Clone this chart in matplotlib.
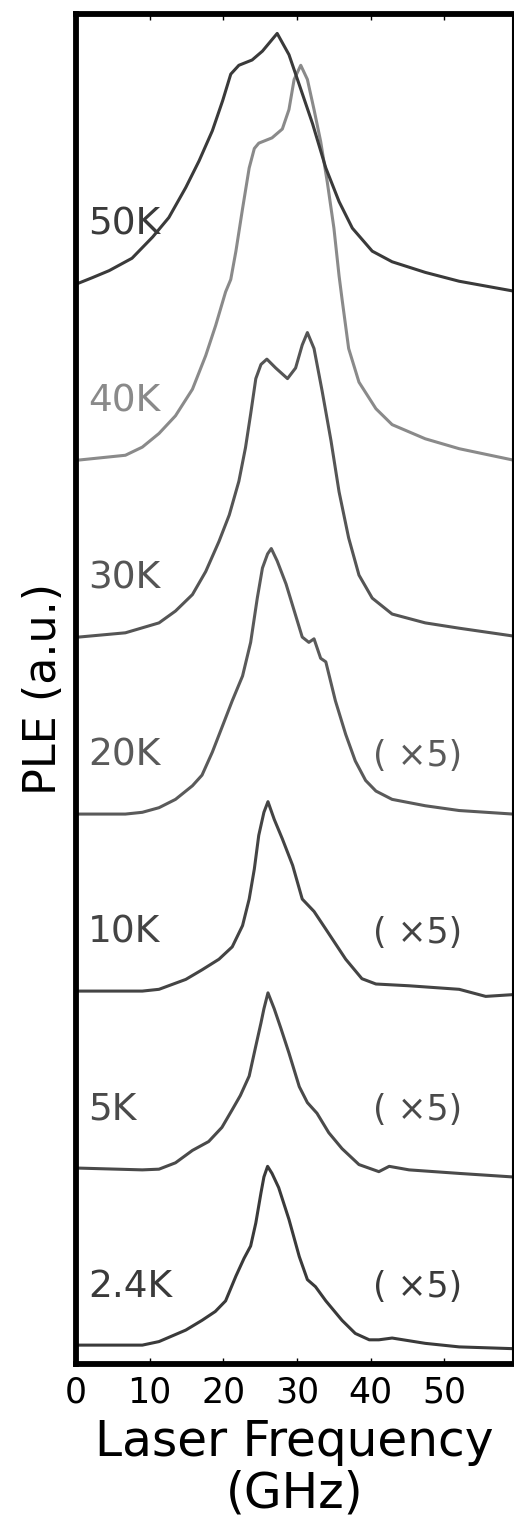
import matplotlib
matplotlib.use("Agg")
import matplotlib.pyplot as plt

plt.rcParams['font.family'] = ['DejaVu Sans']

# ---- data ----
temps = ["2.4K", "5K", "10K", "20K", "30K", "40K", "50K"]
offsets = [0, 1, 2, 3, 4, 5, 6]
scale_notes = ["( ×5)", "( ×5)", "( ×5)", "( ×5)", "", "", ""]

f_24 = [0.4, 9.0, 11.26, 14.9, 17.1, 18.9, 20.3, 21.7, 22.8, 23.7, 24.4, 25.1, 25.5, 26.0, 26.6, 27.5, 28.9, 30.3, 31.4, 32.5, 33.9, 36.1, 37.9, 39.8, 41.1, 42.9, 47.4, 52.0, 59.3]
i_24 = [0.0, 0.0, 0.02, 0.085, 0.14, 0.19, 0.25, 0.39, 0.49, 0.56, 0.69, 0.86, 0.95, 1.01, 0.97, 0.89, 0.71, 0.50, 0.37, 0.33, 0.25, 0.14, 0.066, 0.03, 0.03, 0.04, 0.01, -0.01, -0.02]

f_5 = [0.4, 9.0, 11.26, 13.5, 15.8, 18.0, 19.8, 21.2, 22.3, 23.5, 24.4, 25.1, 25.5, 26.05, 26.9, 27.8, 28.9, 30.3, 31.4, 32.7, 34.3, 36.1, 38.4, 41.1, 42.5, 45.2, 52.0, 59.3]
i_5 = [0.0, -0.01, -0.006, 0.03, 0.10, 0.15, 0.23, 0.33, 0.41, 0.52, 0.69, 0.82, 0.90, 0.99, 0.90, 0.79, 0.65, 0.46, 0.37, 0.31, 0.20, 0.11, 0.02, -0.02, 0.01, -0.01, -0.03, -0.05]

f_10 = [0.4, 9.0, 11.26, 14.9, 17.1, 19.4, 21.2, 22.6, 23.5, 24.2, 24.8, 25.5, 26.05, 26.9, 28.0, 29.4, 30.7, 32.3, 33.9, 36.6, 38.8, 40.7, 45.2, 52.0, 55.6, 59.3]
i_10 = [0.0, 0.0, 0.01, 0.066, 0.12, 0.18, 0.25, 0.37, 0.52, 0.69, 0.88, 1.01, 1.07, 0.97, 0.86, 0.71, 0.52, 0.45, 0.35, 0.18, 0.07, 0.04, 0.03, 0.01, -0.03, -0.02]

f_20 = [0.4, 6.7, 9.0, 11.26, 13.5, 15.8, 17.1, 18.5, 19.9, 21.2, 22.6, 23.7, 24.6, 25.3, 26.0, 26.5, 27.3, 28.5, 29.6, 30.7, 31.6, 32.3, 33.2, 33.9, 35.2, 36.6, 37.9, 39.3, 40.7, 42.9, 47.4, 52.0, 59.3]
i_20 = [0.0, 0.0, 0.01, 0.036, 0.083, 0.16, 0.22, 0.35, 0.50, 0.64, 0.78, 0.97, 1.22, 1.39, 1.47, 1.50, 1.43, 1.30, 1.15, 1.00, 0.97, 0.99, 0.88, 0.86, 0.64, 0.45, 0.30, 0.19, 0.13, 0.083, 0.047, 0.02, 0.0]

f_30 = [0.4, 6.7, 11.26, 13.5, 15.8, 17.6, 19.4, 20.8, 22.1, 23.0, 23.7, 24.4, 25.1, 25.9, 27.1, 28.7, 29.8, 30.7, 31.4, 32.3, 33.4, 34.6, 35.7, 37.0, 38.4, 40.2, 42.9, 47.4, 52.0, 59.3]
i_30 = [0.0, 0.024, 0.08, 0.147, 0.24, 0.37, 0.54, 0.69, 0.88, 1.07, 1.26, 1.46, 1.54, 1.57, 1.52, 1.46, 1.52, 1.65, 1.72, 1.63, 1.39, 1.11, 0.82, 0.56, 0.35, 0.22, 0.13, 0.08, 0.05, 0.006]

f_40 = [0.4, 6.7, 9.0, 11.26, 13.5, 15.8, 17.6, 18.95, 20.3, 21.0, 21.7, 22.6, 23.5, 24.2, 24.8, 26.6, 28.0, 28.9, 29.6, 30.5, 31.4, 32.3, 33.2, 34.1, 35.0, 35.7, 36.1, 37.0, 38.4, 40.7, 42.9, 47.4, 52.0, 59.3]
i_40 = [0.0, 0.027, 0.073, 0.15, 0.25, 0.40, 0.59, 0.76, 0.95, 1.02, 1.18, 1.42, 1.65, 1.76, 1.79, 1.82, 1.87, 1.98, 2.15, 2.23, 2.15, 1.98, 1.80, 1.57, 1.31, 1.04, 0.91, 0.63, 0.44, 0.29, 0.20, 0.12, 0.064, 0.0]

f_50 = [0.4, 2.2, 4.5, 7.6, 10.4, 12.6, 14.9, 16.7, 18.5, 19.9, 21.0, 22.1, 23.9, 25.3, 27.3, 28.9, 30.3, 32.1, 33.9, 35.7, 37.5, 40.2, 42.9, 47.4, 52.0, 59.3]
i_50 = [0.0, 0.03, 0.07, 0.14, 0.26, 0.37, 0.54, 0.69, 0.86, 1.03, 1.18, 1.23, 1.26, 1.31, 1.41, 1.29, 1.12, 0.90, 0.65, 0.46, 0.31, 0.18, 0.12, 0.06, 0.01, -0.045]

freqs = [f_24, f_5, f_10, f_20, f_30, f_40, f_50]
intens = [i_24, i_5, i_10, i_20, i_30, i_40, i_50]
colors = ["#3a3a3a", "#4a4a4a", "#444444", "#5a5a5a", "#555555", "#8a8a8a", "#3a3a3a"]

xticks = [0, 10, 20, 30, 40, 50]

fig = plt.figure(figsize=(5.14, 15.33), dpi=100)
ax = fig.add_axes([0.1479, 0.1102, 0.998 - 0.1479, 0.8807])

for f, it, off, c, t, note in zip(freqs, intens, offsets, colors, temps, scale_notes):
    ax.plot(f, [v + off for v in it], color=c, lw=2.2, solid_joinstyle='round')
    ax.text(1.6, off + 0.33, t, color=c, fontsize=27, ha='left', va='center')
    if note:
        ax.text(46.3, off + 0.33, note, color=c, fontsize=25, ha='center', va='center')

ax.set_xlim(0, 59.3)
ax.set_ylim(-0.107, 7.52)
ax.set_xticks(xticks)
ax.set_xticklabels([str(v) for v in xticks], fontsize=25)
ax.set_yticks([])
ax.tick_params(axis='x', direction='in', length=4, width=1, top=True, bottom=True, pad=8)

for side in ['left', 'top', 'bottom']:
    ax.spines[side].set_linewidth(4.2)
ax.spines['right'].set_linewidth(1.5)

ax.set_xlabel("Laser Frequency\n(GHz)", fontsize=35, labelpad=6, linespacing=1.1)
ax.set_ylabel("PLE (a.u.)", fontsize=32, labelpad=8)

fig.savefig("out.png", dpi=100)
